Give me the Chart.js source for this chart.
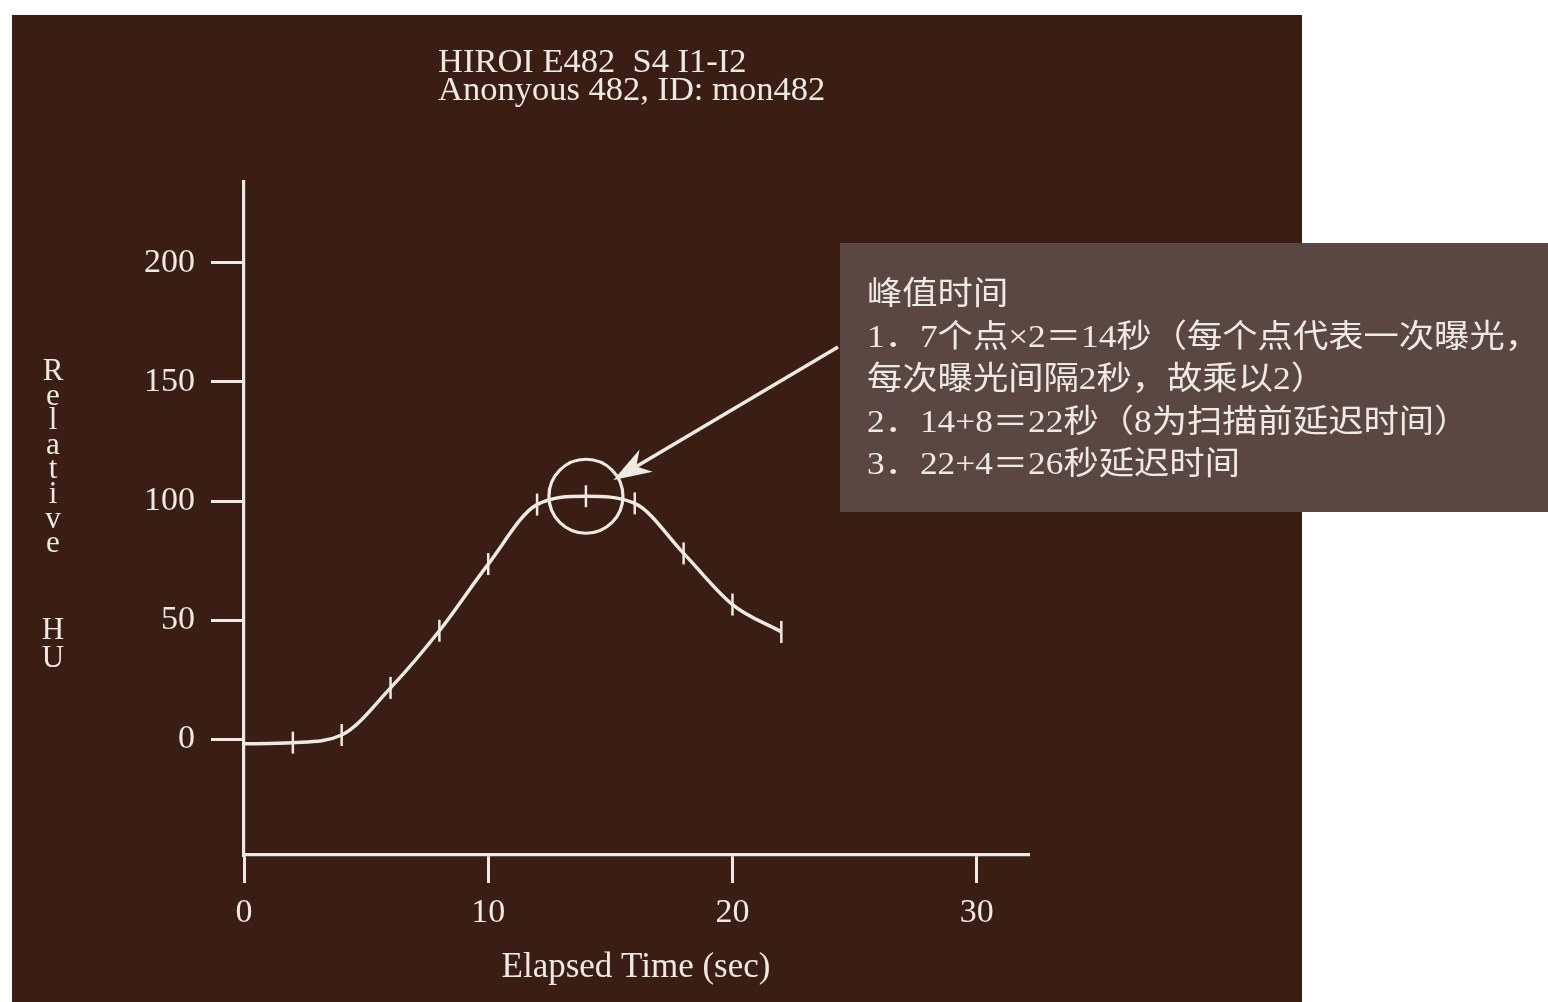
<!DOCTYPE html>
<html>
<head>
<meta charset="utf-8">
<script src="https://cdn.jsdelivr.net/npm/chart.js@4.4.1/dist/chart.umd.min.js"></script>
<style>
  html, body { margin: 0; padding: 0; background: #ffffff; }
  #wrap { position: relative; width: 1548px; height: 1002px; }
  canvas { display: block; }
</style>
</head>
<body>
<div id="wrap"><canvas id="c" width="1548" height="1002"></canvas></div>
<script>
// ---- data ----
const times = [0, 2, 4, 6, 8, 10, 12, 14, 16, 18, 20, 22];
const relHU = [-2, -1.5, 1.7, 21.5, 45.5, 73.5, 98.5, 102, 99, 78, 56.5, 45];
const xTicks = [0, 10, 20, 30];
const yTicks = [0, 50, 100, 150, 200];
const peakIndex = 7;
const titleLines = ["HIROI E482  S4 I1-I2", "Anonyous 482, ID: mon482"];
const xTitle = "Elapsed Time (sec)";
const yTitleWords = ["Relative", "HU"];
const noteLines = [
  "峰值时间",
  "1．7个点×2＝14秒（每个点代表一次曝光，",
  "每次曝光间隔2秒，故乘以2）",
  "2．14+8＝22秒（8为扫描前延迟时间）",
  "3．22+4＝26秒延迟时间"
];

// ---- styles ----
const PANEL = '#3a1d13';
const BOX = '#5a4744';
const INK = '#efe9e4';
const SERIF = "'Liberation Serif', 'DejaVu Serif', serif";

const decor = {
  id: 'decor',
  beforeDraw(chart) {
    const ctx = chart.ctx;
    ctx.save();
    ctx.fillStyle = '#ffffff';
    ctx.fillRect(0, 0, chart.width, chart.height);
    ctx.fillStyle = PANEL;
    ctx.fillRect(12, 15, 1290, 987);
    // title
    ctx.fillStyle = INK;
    ctx.font = "34.5px " + SERIF;
    ctx.textAlign = 'left';
    ctx.textBaseline = 'alphabetic';
    ctx.fillText(titleLines[0], 438, 72);
    ctx.fillText(titleLines[1], 438, 100);
    // stacked y title
    ctx.font = "31px " + SERIF;
    ctx.textAlign = 'center';
    let y = 380;
    yTitleWords[0].split('').forEach((ch) => { ctx.fillText(ch, 53, y); y += 24.6; });
    y = 639;
    yTitleWords[1].split('').forEach((ch) => { ctx.fillText(ch, 53, y); y += 28; });
    ctx.restore();
  },
  afterDraw(chart) {
    const ctx = chart.ctx;
    const pt = chart.getDatasetMeta(0).data[peakIndex];
    const cx = pt.x, cy = pt.y, r = 37;
    ctx.save();
    // circle around peak
    ctx.strokeStyle = INK;
    ctx.lineWidth = 3.2;
    ctx.beginPath();
    ctx.arc(cx, cy, r, 0, Math.PI * 2);
    ctx.stroke();
    // note box
    const bx = 840, by = 243, bw = 708, bh = 269;
    ctx.fillStyle = BOX;
    ctx.fillRect(bx, by, bw, bh);
    ctx.fillStyle = INK;
    ctx.font = "32px 'Liberation Serif', 'Noto Sans CJK SC', serif";
    ctx.textBaseline = 'middle';
    ctx.textAlign = 'left';
    const target = 673;
    const w = ctx.measureText(noteLines[1]).width;
    const s = target / w;
    noteLines.forEach((ln, i) => {
      ctx.save();
      ctx.translate(867, 296 + i * 42.5);
      ctx.scale(s, 1);
      ctx.fillText(ln, 0, 0);
      ctx.restore();
    });
    // arrow
    const sx = bx - 2, sy = 347;
    const ang = Math.atan2(sy - cy, sx - cx);
    const tx = cx + Math.cos(ang) * (r - 5), ty = cy + Math.sin(ang) * (r - 5);
    const L = 38, hw = 13;
    const ux = Math.cos(ang), uy = Math.sin(ang);
    ctx.strokeStyle = INK;
    ctx.lineWidth = 3.5;
    ctx.beginPath();
    ctx.moveTo(sx, sy);
    ctx.lineTo(tx + ux * L * 0.7, ty + uy * L * 0.7);
    ctx.stroke();
    ctx.fillStyle = INK;
    ctx.beginPath();
    ctx.moveTo(tx, ty);
    ctx.lineTo(tx + ux * L - uy * hw, ty + uy * L + ux * hw);
    ctx.lineTo(tx + ux * L * 0.7, ty + uy * L * 0.7);
    ctx.lineTo(tx + ux * L + uy * hw, ty + uy * L - ux * hw);
    ctx.closePath();
    ctx.fill();
    ctx.restore();
  }
};

new Chart(document.getElementById('c'), {
  type: 'line',
  data: {
    datasets: [{
      data: times.map((t, i) => ({ x: t, y: relHU[i] })),
      borderColor: INK,
      borderWidth: 3.5,
      cubicInterpolationMode: 'monotone',
      fill: false,
      pointStyle: 'line',
      pointRotation: 90,
      pointRadius: (c) => c.dataIndex === 0 ? 0 : 11,
      pointBorderWidth: 2.5,
      pointBorderColor: INK,
      pointBackgroundColor: INK,
      clip: false
    }]
  },
  options: {
    responsive: false,
    animation: false,
    events: [],
    layout: { padding: { left: 0, right: 520, top: 182, bottom: 0 } },
    plugins: { legend: { display: false }, tooltip: { enabled: false }, title: { display: false } },
    scales: {
      x: {
        type: 'linear',
        min: 0,
        max: 32.1,
        afterBuildTicks: (sc) => { sc.ticks = xTicks.map(v => ({ value: v })); },
        afterFit: (sc) => { sc.height = 147; },
        grid: { drawOnChartArea: false, drawTicks: true, tickLength: 28, color: INK, lineWidth: 3 },
        border: { display: true, color: INK, width: 3.2 },
        ticks: { color: INK, font: { family: SERIF, size: 34 }, padding: 10, maxRotation: 0 },
        title: { display: true, text: xTitle, color: INK, font: { family: SERIF, size: 35 }, padding: { top: 0, bottom: 13 } }
      },
      y: {
        type: 'linear',
        min: -48.7,
        max: 234,
        afterBuildTicks: (sc) => { sc.ticks = yTicks.map(v => ({ value: v })); },
        afterFit: (sc) => { sc.width = 244; },
        grid: { drawOnChartArea: false, drawTicks: true, tickLength: 33, color: INK, lineWidth: 3 },
        border: { display: true, color: INK, width: 3.2 },
        ticks: { color: INK, font: { family: SERIF, size: 34 }, padding: 16 }
      }
    }
  },
  plugins: [decor]
});
</script>
</body>
</html>
